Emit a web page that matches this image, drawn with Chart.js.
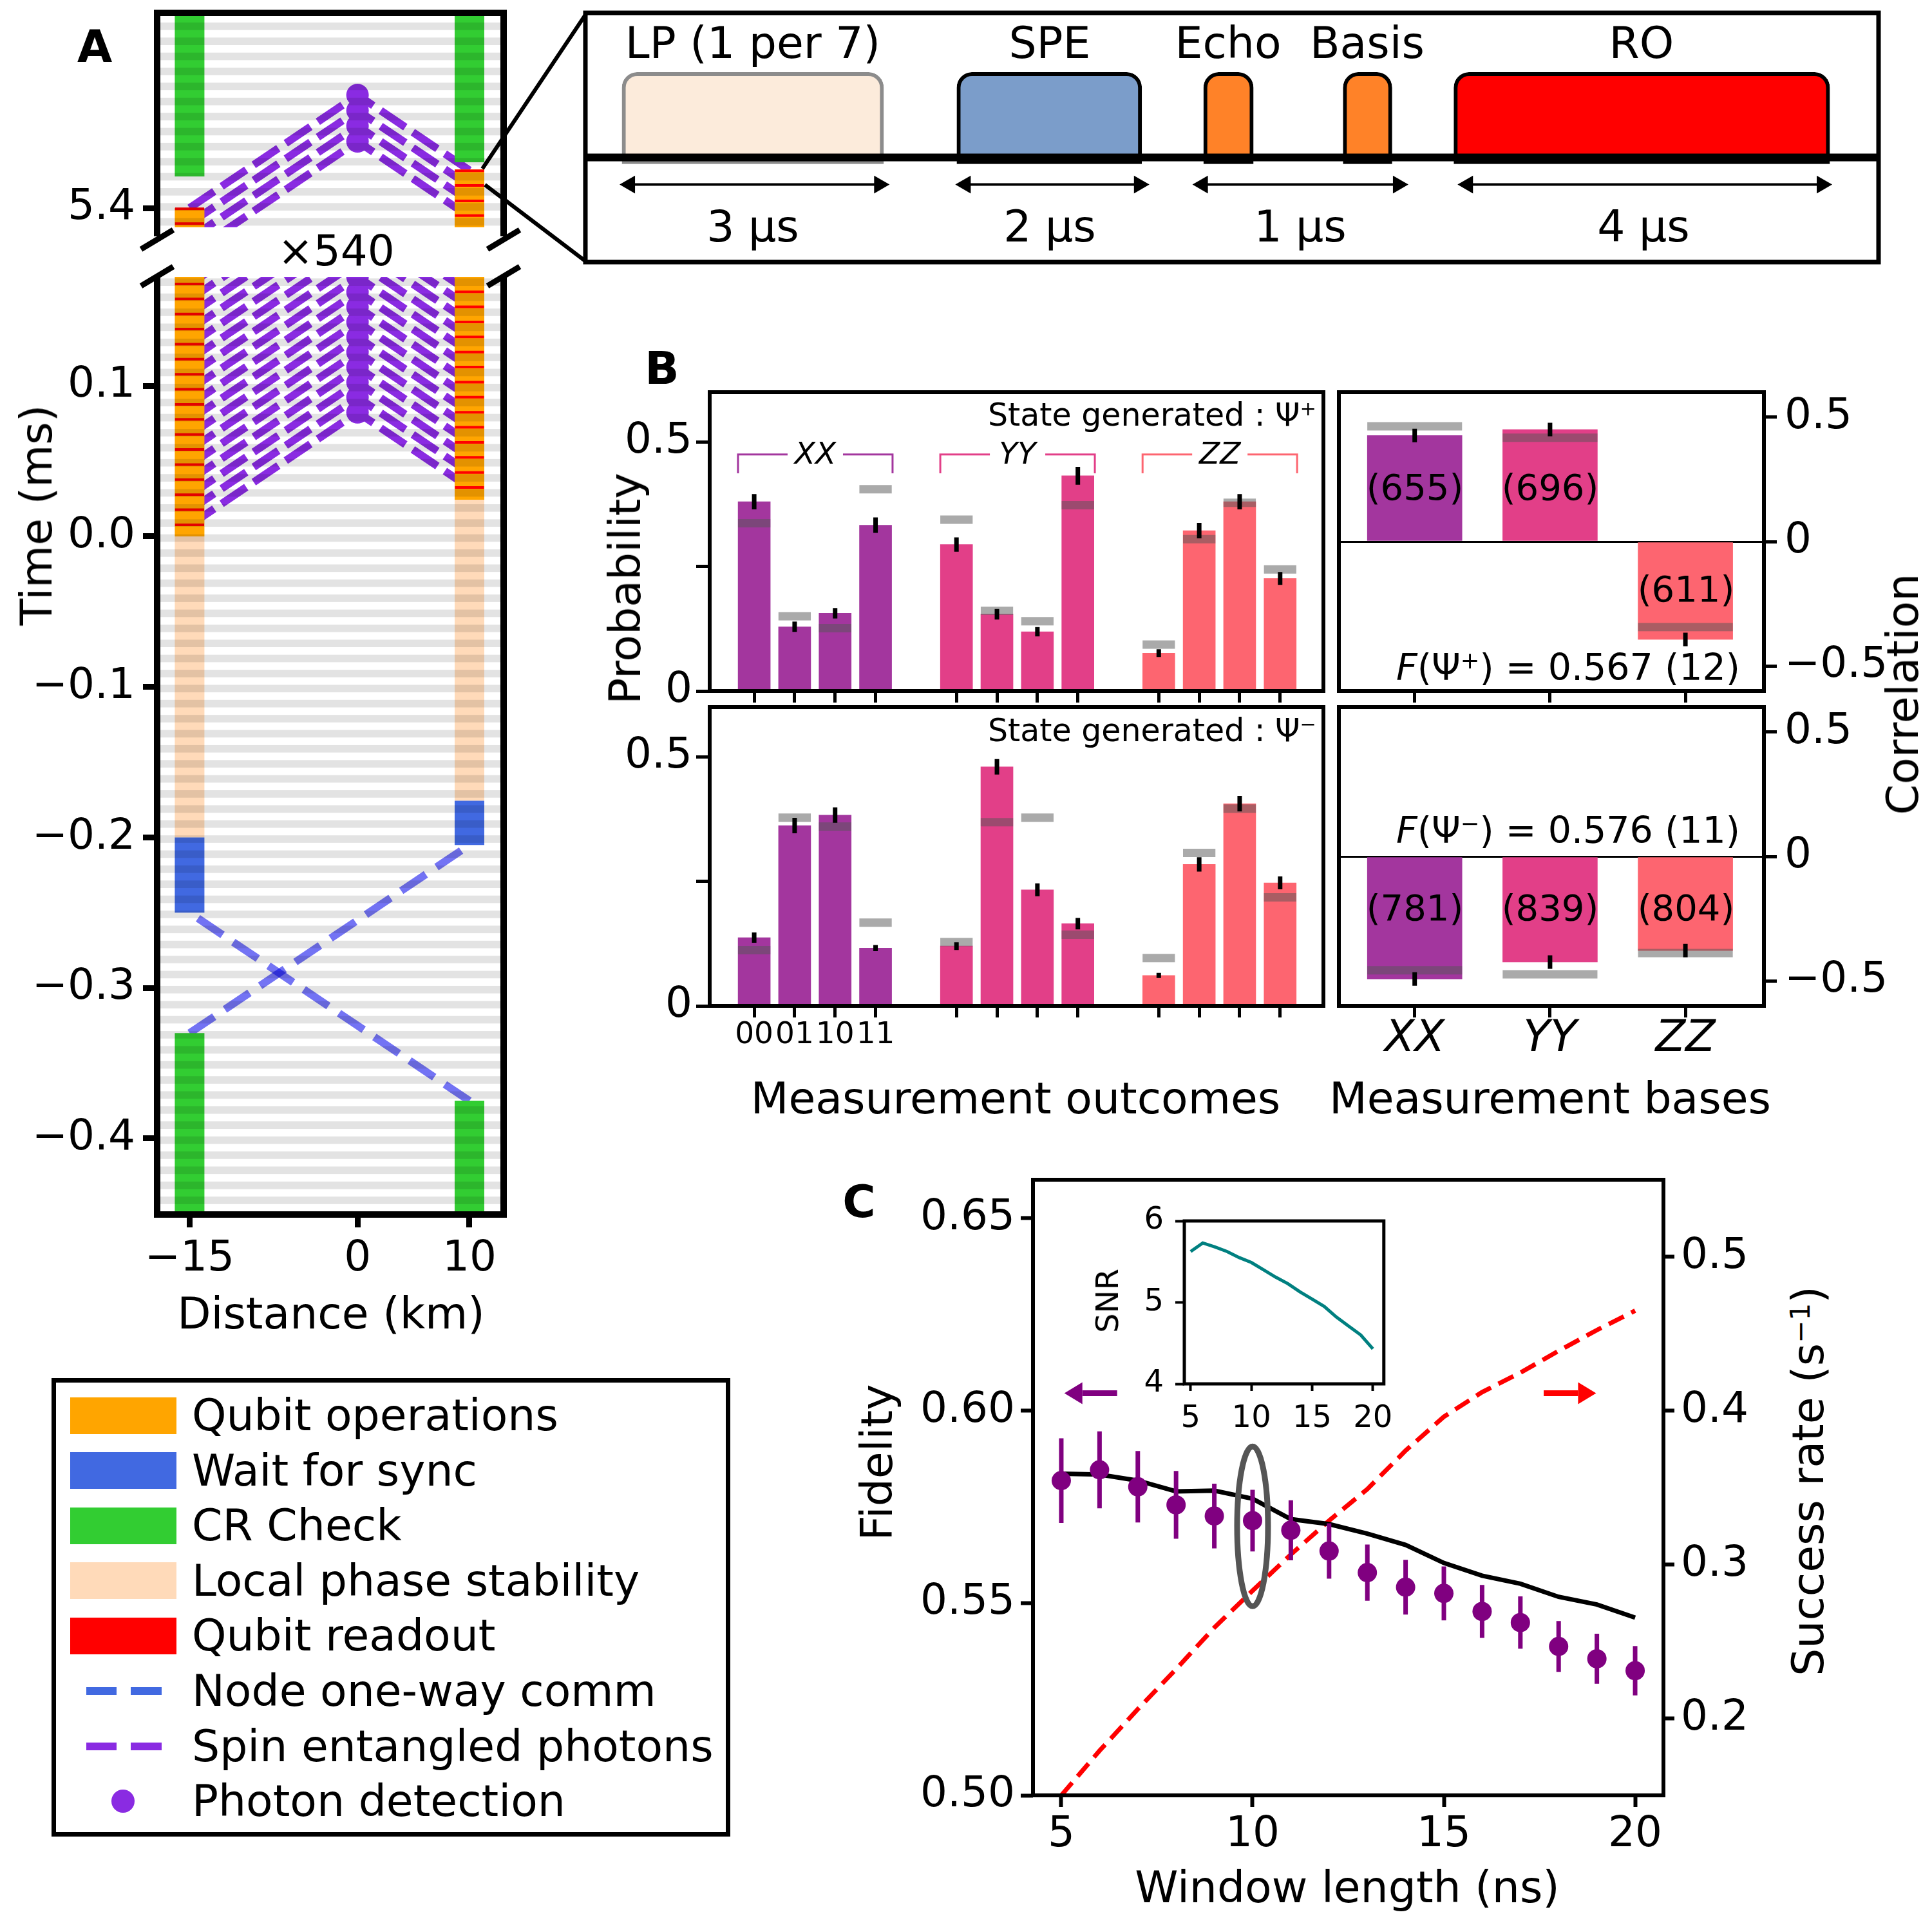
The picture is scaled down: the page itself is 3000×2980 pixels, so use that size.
<!DOCTYPE html>
<html lang="en">
<head>
<meta charset="UTF-8">
<meta name="viewport" content="width=device-width, initial-scale=1.0">
<title>Entanglement between two nodes</title>
<script src="https://cdn.jsdelivr.net/npm/chart.js"></script>
<style>
  html, body { margin: 0; padding: 0; background: #fff; }
  body { position: relative; width: 3000px; height: 2980px; overflow: hidden; font-family: 'DejaVu Sans', sans-serif; }
  canvas { position: absolute; }
  .t { position: absolute; white-space: nowrap; line-height: 1; font-size: 68px; color: #000; transform: translate(-50%, -50%); }
  .t.rot { transform: translate(-50%, -50%) rotate(-90deg); }
  .t.end { transform: translate(-100%, -50%); }
  .t.start { transform: translate(0, -50%); }
  .t.bold { font-weight: bold; font-size: 70px; }
  sup { font-size: 0.62em; line-height: 0; vertical-align: 0.5em; }
  #legend { position: absolute; left: 80px; top: 2140px; width: 1054px; height: 712px; border: 7px solid #000; box-sizing: border-box; }
  .sw { position: absolute; }
</style>
</head>
<body>
<canvas id="aUp"></canvas>
<canvas id="aLow"></canvas>
<canvas id="pulse"></canvas>
<canvas id="bTL"></canvas>
<canvas id="bBL"></canvas>
<canvas id="bTR"></canvas>
<canvas id="bBR"></canvas>
<canvas id="cMain"></canvas>
<canvas id="cIns"></canvas>
<div id="legend"></div>

<!-- panel A -->
<div class="t bold" style="left:147px;top:72px">A</div>
<div class="t" style="left:522px;top:390px;font-size:66px">×540</div>
<div class="t rot" style="left:57px;top:800px">Time (ms)</div>
<div class="t" style="left:514px;top:2040px">Distance (km)</div>

<!-- pulse sequence -->
<div class="t" style="left:1169px;top:67px">LP (1 per 7)</div>
<div class="t" style="left:1630px;top:67px">SPE</div>
<div class="t" style="left:1907px;top:67px">Echo</div>
<div class="t" style="left:2123px;top:67px">Basis</div>
<div class="t" style="left:2549px;top:67px">RO</div>
<div class="t" style="left:1169px;top:352px">3 µs</div>
<div class="t" style="left:1630px;top:352px">2 µs</div>
<div class="t" style="left:2019px;top:352px">1 µs</div>
<div class="t" style="left:2552px;top:352px">4 µs</div>

<!-- panel B -->
<div class="t bold" style="left:1028px;top:572px">B</div>
<div class="t rot" style="left:971px;top:914px">Probability</div>
<div class="t end" style="left:2044px;top:644px;font-size:49px">State generated : Ψ<sup>+</sup></div>
<div class="t end" style="left:2044px;top:1134px;font-size:49px">State generated : Ψ<sup>−</sup></div>
<div class="t" style="left:2197px;top:757px;font-size:56px">(655)</div>
<div class="t" style="left:2407px;top:757px;font-size:56px">(696)</div>
<div class="t" style="left:2618px;top:915px;font-size:56px">(611)</div>
<div class="t end" style="left:2702px;top:1036px;font-size:57px"><i>F</i>(Ψ<sup>+</sup>) = 0.567 (12)</div>
<div class="t end" style="left:2702px;top:1289px;font-size:57px"><i>F</i>(Ψ<sup>−</sup>) = 0.576 (11)</div>
<div class="t" style="left:2197px;top:1410px;font-size:56px">(781)</div>
<div class="t" style="left:2407px;top:1410px;font-size:56px">(839)</div>
<div class="t" style="left:2618px;top:1410px;font-size:56px">(804)</div>
<div class="t" style="left:1577px;top:1706px">Measurement outcomes</div>
<div class="t" style="left:2407px;top:1706px">Measurement bases</div>
<div class="t rot" style="left:2955px;top:1078px">Correlation</div>

<!-- panel C -->
<div class="t bold" style="left:1334px;top:1866px">C</div>
<div class="t rot" style="left:1362px;top:2271px">Fidelity</div>
<div class="t rot" style="left:2808px;top:2300px">Success rate (s<sup>−1</sup>)</div>
<div class="t" style="left:2092px;top:2931px">Window length (ns)</div>
<div class="t rot" style="left:1719px;top:2020px;font-size:48px">SNR</div>

<script>
// ---------- Panel A: timeline of both nodes (distance in km, time in ms) ----------
const nodeX = [-15, 10];
const fiberDelay = [0.075, 0.05];          // travel time from each node to the midpoint station
// [node, phase, start, end]
const blocksLow = [
  [0, 'CR Check', -0.46, -0.33], [0, 'Wait for sync', -0.25, -0.2],
  [0, 'Local phase stability', -0.2, 0.0], [0, 'Qubit operations', 0.0, 0.18],
  [1, 'CR Check', -0.46, -0.375], [1, 'Wait for sync', -0.205, -0.1756],
  [1, 'Local phase stability', -0.1756, 0.0244], [1, 'Qubit operations', 0.0244, 0.18]
];
const blocksUp = [
  [0, 'Qubit operations', 5.37, 5.4], [0, 'CR Check', 5.421, 5.54],
  [1, 'Qubit operations', 5.37, 5.4257], [1, 'CR Check', 5.4304, 5.54]
];
const readoutLow = [
  [0.0077, 0.0177, 0.0277, 0.0377, 0.0477, 0.0577, 0.0677, 0.0777, 0.0877, 0.0977, 0.1077, 0.1177, 0.1277, 0.1377, 0.1477, 0.1577, 0.1677],
  [0.0325, 0.0425, 0.0525, 0.0625, 0.0725, 0.0825, 0.0925, 0.1025, 0.1125, 0.1225, 0.1325, 0.1425, 0.1525, 0.1625]
];
const readoutUp = [[5.3897, 5.3995], [5.395, 5.4047, 5.415, 5.4248]];
const detectLow = [0.0824, 0.0924, 0.1024, 0.1124, 0.1224, 0.1324, 0.1424, 0.1524, 0.1624, 0.1724, 0.1824, 0.1924, 0.2024, 0.2124, 0.2224, 0.2324, 0.2424];
const detectUp = [5.4443, 5.4546, 5.4648, 5.4751];
const commLinks = [[0, -0.33, 1, -0.205], [1, -0.375, 0, -0.25]];   // [from node, t send, to node, t arrive]

// ---------- pulse sequence (µs, schematic) ----------
const pulseNames = ['LP (1 per 7)', 'SPE', 'Echo', 'Basis', 'RO'];
const pulseStart = [0.42, 4.26, 7.09, 8.69, 9.96];
const pulseEnd = [3.42, 6.38, 7.66, 9.25, 14.27];
const spanStart = [0.39, 4.24, 6.96, 10.0];
const spanEnd = [3.49, 6.47, 9.44, 14.3];

// ---------- Panel B ----------
const outcomes = ['00', '01', '10', '11'];
const bases = ['XX', 'YY', 'ZZ'];
const probPlus = [0.380, 0.129, 0.156, 0.333, 0.294, 0.154, 0.119, 0.432, 0.076, 0.322, 0.380, 0.226];
const probPlusModel = [0.337, 0.150, 0.126, 0.405, 0.344, 0.161, 0.140, 0.373, 0.093, 0.305, 0.378, 0.244];
const probPlusErr = [0.0155, 0.0104, 0.0104, 0.0155, 0.0145, 0.0104, 0.0093, 0.018, 0.0078, 0.0155, 0.0155, 0.013];
const probMinus = [0.137, 0.362, 0.383, 0.116, 0.120, 0.480, 0.233, 0.165, 0.061, 0.284, 0.406, 0.247];
const probMinusModel = [0.112, 0.378, 0.360, 0.167, 0.128, 0.369, 0.378, 0.143, 0.096, 0.307, 0.396, 0.218];
const probMinusErr = [0.0104, 0.0155, 0.0155, 0.0062, 0.0078, 0.0155, 0.013, 0.0114, 0.0052, 0.0145, 0.0155, 0.013];
const corrPlus = [0.426, 0.450, -0.393];
const corrPlusModel = [0.463, 0.417, -0.343];
const corrMinus = [-0.492, -0.424, -0.378];
const corrMinusModel = [-0.457, -0.473, -0.388];
const corrErr = [0.027, 0.027, 0.027];

// ---------- Panel C ----------
const windowNs = [5, 6, 7, 8, 9, 10, 11, 12, 13, 14, 15, 16, 17, 18, 19, 20];
const fidelity = [0.5818, 0.5846, 0.5802, 0.5755, 0.5726, 0.5714, 0.5689, 0.5635, 0.5579, 0.5541, 0.5525, 0.5478, 0.5449, 0.5387, 0.5355, 0.5324];
const fidelityErr = [0.011, 0.010, 0.0093, 0.0088, 0.0084, 0.008, 0.0078, 0.0072, 0.0073, 0.0071, 0.007, 0.0069, 0.0068, 0.0066, 0.0065, 0.0064];
const fidelityModel = [0.5836, 0.5834, 0.5818, 0.579, 0.5792, 0.5771, 0.5718, 0.5705, 0.568, 0.5651, 0.5604, 0.5571, 0.555, 0.5516, 0.5496, 0.5462];
const successRate = [0.150, 0.179, 0.206, 0.232, 0.259, 0.283, 0.3065, 0.3285, 0.349, 0.374, 0.396, 0.412, 0.4246, 0.4388, 0.4523, 0.4649];
const snr = [5.625, 5.73, 5.68, 5.625, 5.55, 5.49, 5.40, 5.31, 5.23, 5.13, 5.04, 4.95, 4.82, 4.71, 4.60, 4.43];

// ---------- styles ----------
const phaseColour = {
  'Qubit operations': '#ffa500', 'Wait for sync': '#4169e1', 'CR Check': '#32cd32',
  'Local phase stability': '#ffdab9', 'Qubit readout': '#ff0000'
};
const groupColour = ['#a3369e', '#e23f88', '#fd6570'];
const pulseFill = ['#fcebdb', '#7b9dca', '#ff8228', '#ff8228', '#ff0000'];
const pulseEdge = ['#8c8c8c', '#000', '#000', '#000', '#000'];

Chart.defaults.font.family = "'DejaVu Sans', sans-serif";
Chart.defaults.color = '#000';

const el = id => document.getElementById(id);
const minus = s => String(s).replace('-', '\u2212');

// put a canvas so that its chart area lands on area = [left, top, right, bottom]
function place(id, area, m) {
  const c = el(id);
  c.width = area[2] - area[0] + m[0] + m[2];
  c.height = area[3] - area[1] + m[1] + m[3];
  c.style.left = (area[0] - m[0]) + 'px';
  c.style.top = (area[1] - m[1]) + 'px';
  c.style.width = c.width + 'px';
  c.style.height = c.height + 'px';
  return c;
}

function opts(pad, scales, plugins) {
  return {
    responsive: false, animation: false, devicePixelRatio: 1, events: [],
    layout: { padding: pad },
    scales,
    plugins: Object.assign({ legend: { display: false }, tooltip: { enabled: false } }, plugins || {}),
    elements: { point: { radius: 0, hoverRadius: 0 }, line: { tension: 0 } }
  };
}

function linAxis(pos, min, max, vals, fmt, o) {
  const horiz = pos === 'bottom' || pos === 'top';
  return {
    type: 'linear', position: pos, min, max, offset: false,
    afterBuildTicks: s => { s.ticks = vals.map(v => ({ value: v })); },
    afterFit: s => { if (horiz) s.height = o.size; else s.width = o.size; },
    grid: {
      offset: false,
      drawOnChartArea: !!o.zero,
      color: c => (o.zero && c.tick && c.tick.value === 0) ? '#000' : 'rgba(0,0,0,0)',
      lineWidth: 3,
      tickLength: o.len, tickWidth: o.w, tickColor: '#000'
    },
    border: { display: false },
    ticks: {
      callback: fmt, padding: o.pad, autoSkip: false, maxRotation: 0, minRotation: 0, color: '#000',
      font: { size: o.font, style: o.italic ? 'italic' : 'normal', lineHeight: 1 }
    }
  };
}

function hSegs(xs, ys, half) {
  const d = [];
  xs.forEach((x, i) => d.push({ x: x - half, y: ys[i] }, { x: x + half, y: ys[i] }, { x: x, y: null }));
  return d;
}
function vSegs(xs, ys, errs) {
  const d = [];
  xs.forEach((x, i) => d.push({ x, y: ys[i] - errs[i] }, { x, y: ys[i] + errs[i] }, { x, y: null }));
  return d;
}

// ---------- plugins ----------
const framePlugin = {
  id: 'frame',
  afterDraw(chart, args, o) {
    if (!o.width) return;
    const { ctx, chartArea: a } = chart;
    const sides = o.sides || 'lrtb';
    const h = o.width / 2, ext = o.ext || 0;
    ctx.save();
    ctx.strokeStyle = '#000';
    ctx.lineWidth = o.width;
    ctx.beginPath();
    if (sides.includes('t')) { ctx.moveTo(a.left - h, a.top); ctx.lineTo(a.right + h, a.top); }
    if (sides.includes('b')) { ctx.moveTo(a.left - h, a.bottom); ctx.lineTo(a.right + h, a.bottom); }
    const y0 = sides.includes('t') ? a.top : a.top - ext;
    const y1 = sides.includes('b') ? a.bottom : a.bottom + ext;
    if (sides.includes('l')) { ctx.moveTo(a.left, y0); ctx.lineTo(a.left, y1); }
    if (sides.includes('r')) { ctx.moveTo(a.right, y0); ctx.lineTo(a.right, y1); }
    ctx.stroke();
    // broken-axis marks
    if (o.breakAt !== undefined) {
      const yb = o.breakAt === 'top' ? a.top - 1 : a.bottom + 19;
      ctx.lineWidth = 9;
      ctx.beginPath();
      [a.left, a.right].forEach(x => { ctx.moveTo(x - 25, yb + 15); ctx.lineTo(x + 25, yb - 15); });
      ctx.stroke();
    }
    ctx.restore();
  }
};

const stripesPlugin = {
  id: 'stripes',
  afterDatasetsDraw(chart, args, o) {
    if (!o.period) return;
    const { ctx, chartArea: a, scales: { y } } = chart;
    ctx.save();
    ctx.beginPath();
    ctx.rect(a.left, a.top, a.width, a.height);
    ctx.clip();
    ctx.fillStyle = 'rgba(0,0,0,0.11)';
    let t = o.start - Math.ceil((o.start - y.min) / o.period) * o.period;
    for (; t < y.max; t += o.period) {
      const p0 = y.getPixelForValue(t + o.width), p1 = y.getPixelForValue(t);
      ctx.fillRect(a.left, p0, a.width, p1 - p0);
    }
    ctx.restore();
  }
};
Chart.register(framePlugin, stripesPlugin);

// ---------- Panel A ----------
function timeline(id, area, margin, yMin, yMax, yTicks, blocks, readout, detect, comm, withX, stripeStart, frame) {
  place(id, area, margin);
  const sets = [];
  sets.push({ data: detect.map(d => ({ x: 0, y: d })), showLine: false, pointRadius: 17.5,
    pointBackgroundColor: '#8a2be2', pointBorderWidth: 0, order: 1, clip: 0 });
  const ro = [];
  readout.forEach((ts, n) => ts.forEach(t => ro.push({ x: nodeX[n] - 1.3, y: t }, { x: nodeX[n] + 1.3, y: t }, { x: nodeX[n], y: null })));
  sets.push({ data: ro, borderColor: phaseColour['Qubit readout'], borderWidth: 4, order: 2, clip: 0 });
  blocks.forEach(b => sets.push({
    data: [{ x: nodeX[b[0]], y: b[2] }, { x: nodeX[b[0]], y: b[3] }],
    borderColor: phaseColour[b[1]], borderWidth: 46, borderCapStyle: 'butt', order: 3, clip: 0
  }));
  const ph = [];
  detect.forEach(d => nodeX.forEach((nx, n) => ph.push({ x: nx, y: d - fiberDelay[n] }, { x: 0, y: d }, { x: 0, y: null })));
  sets.push({ data: ph, borderColor: '#8a2be2', borderWidth: 12, borderDash: [46, 14], order: 4, clip: 0 });
  // each message is its own dataset so overlapping dashes darken like the reference
  comm.forEach(c => sets.push({
    data: [{ x: nodeX[c[0]], y: c[1] }, { x: nodeX[c[2]], y: c[3] }],
    borderColor: 'rgba(0,0,235,0.55)', borderWidth: 12, borderDash: [46, 20], order: 5, clip: 0
  }));

  return new Chart(el(id), {
    type: 'line',
    data: { datasets: sets },
    options: opts(
      { left: 0, top: margin[1], right: margin[2], bottom: withX ? 0 : margin[3] },
      {
        x: withX
          ? linAxis('bottom', -17.9, 13.05, [-15, 0, 10], v => minus(v), { size: margin[3], len: 20, w: 9, pad: 17, font: 66 })
          : { type: 'linear', display: false, min: -17.9, max: 13.05 },
        y: linAxis('left', yMin, yMax, yTicks, v => minus(v.toFixed(1)), { size: margin[0], len: 22, w: 9, pad: 12, font: 66 })
      },
      { frame, stripes: { start: stripeStart, period: 0.01, width: 0.005 } }
    )
  });
}

timeline('aUp', [244, 20, 782, 353], [244, 60, 40, 80], 5.3872, 5.5297, [5.4],
  blocksUp, readoutUp, detectUp, [], false, 5.3983, { width: 10, sides: 'lrt', ext: 14, breakAt: 'bottom' });
timeline('aLow', [244, 430, 782, 1886], [244, 80, 40, 160], -0.4505, 0.1724, [-0.4, -0.3, -0.2, -0.1, 0, 0.1],
  blocksLow, readoutLow, detectLow, commLinks, true, 0.0064, { width: 10, sides: 'lrb', breakAt: 'top' });

// ---------- pulse sequence ----------
const connectors = {
  id: 'connectors',
  afterDraw(chart, args, o) {
    const { ctx } = chart;
    const ox = parseFloat(chart.canvas.style.left), oy = parseFloat(chart.canvas.style.top);
    ctx.save();
    ctx.strokeStyle = '#000';
    ctx.lineWidth = 6;
    ctx.beginPath();
    o.lines.forEach(l => { ctx.moveTo(l[0] - ox, l[1] - oy); ctx.lineTo(l[2] - ox, l[3] - oy); });
    ctx.stroke();
    ctx.restore();
  }
};

place('pulse', [909, 20, 2917, 407], [200, 20, 40, 20]);
const pulseSets = [
  { type: 'line', data: [{ x: 0, y: 0 }, { x: 14.83, y: 0 }], borderColor: '#000', borderWidth: 12, order: 1 },
  {
    type: 'bar', indexAxis: 'y', label: 'pulses',
    data: pulseStart.map((s, i) => ({ x: [s, pulseEnd[i]], y: 0.5 })),
    backgroundColor: pulseFill, borderColor: pulseEdge, borderWidth: 6, borderSkipped: false,
    borderRadius: { topLeft: 24, topRight: 24, bottomLeft: 0, bottomRight: 0 },
    barThickness: 142, order: 2
  }
];
spanStart.forEach((s, i) => pulseSets.push({
  type: 'line', data: [{ x: s + 0.12, y: -0.343 }, { x: spanEnd[i] - 0.12, y: -0.343 }],
  borderColor: '#000', borderWidth: 4, pointRadius: 16, pointStyle: 'triangle', pointRotation: [270, 90],
  pointBackgroundColor: '#000', pointBorderWidth: 0, order: 0
}));
new Chart(el('pulse'), {
  type: 'line',
  data: { datasets: pulseSets },
  options: opts({ left: 200, top: 20, right: 40, bottom: 20 }, {
    x: { type: 'linear', display: false, min: 0, max: 14.83 },
    y: { type: 'linear', display: false, min: -1.1286, max: 1.6357 }
  }, { frame: { width: 7 }, connectors: { lines: [[749, 262, 911, 20], [753, 287, 911, 407]] } }),
  plugins: [connectors]
});

// ---------- Panel B ----------
const brackets = {
  id: 'brackets',
  afterDatasetsDraw(chart) {
    const { ctx, scales: { x, y } } = chart;
    ctx.save();
    bases.forEach((b, g) => {
      const x0 = x.getPixelForValue(g * 5 - 0.4), x1 = x.getPixelForValue(g * 5 + 3.42), xc = (x0 + x1) / 2;
      const yl = y.getPixelForValue(0.475), yt = y.getPixelForValue(0.437);
      ctx.strokeStyle = groupColour[g];
      ctx.lineWidth = 3;
      ctx.beginPath();
      ctx.moveTo(x0, yt); ctx.lineTo(x0, yl); ctx.lineTo(xc - 43, yl);
      ctx.moveTo(xc + 43, yl); ctx.lineTo(x1, yl); ctx.lineTo(x1, yt);
      ctx.stroke();
      ctx.fillStyle = '#000';
      ctx.font = "italic 47px 'DejaVu Sans'";
      ctx.textAlign = 'center';
      ctx.textBaseline = 'middle';
      ctx.fillText(b, xc, yl + 2);
    });
    ctx.restore();
  }
};

function probChart(id, area, margin, vals, model, errs, xLabels, extra) {
  place(id, area, margin);
  const pos = vals.map((v, i) => Math.floor(i / 4) * 5 + i % 4);
  const cols = vals.map((v, i) => groupColour[Math.floor(i / 4)]);
  return new Chart(el(id), {
    type: 'bar',
    data: { datasets: [
      { type: 'line', data: vSegs(pos, vals, errs), borderColor: '#000', borderWidth: 7, order: 1 },
      { type: 'line', data: hSegs(pos, model, 0.4), borderColor: 'rgba(85,85,85,0.5)', borderWidth: 13, order: 2 },
      { data: pos.map((p, i) => ({ x: p, y: vals[i] })), backgroundColor: cols, barThickness: 50, order: 3 }
    ] },
    options: opts({ left: 0, top: margin[1], right: margin[2], bottom: 0 }, {
      x: linAxis('bottom', -1.1, 14.07, pos, (v, i) => xLabels ? (xLabels[i] || '') : '', { size: margin[3], len: 18, w: 5, pad: 4, font: 47 }),
      y: linAxis('left', 0, 0.6, [0, 0.25, 0.5], v => v === 0 ? '0' : (v === 0.5 ? '0.5' : ''), { size: margin[0], len: 21, w: 5, pad: 6, font: 66 })
    }, { frame: { width: 6 } }),
    plugins: extra ? [extra] : []
  });
}

function corrChart(id, area, margin, vals, model, errs, showLabels) {
  place(id, area, margin);
  const pos = [0, 1, 2];
  return new Chart(el(id), {
    type: 'bar',
    data: { datasets: [
      { type: 'line', data: vSegs(pos, vals, errs), borderColor: '#000', borderWidth: 7, order: 1 },
      { type: 'line', data: hSegs(pos, model, 0.35), borderColor: 'rgba(85,85,85,0.5)', borderWidth: 13, order: 2 },
      { data: pos.map(p => ({ x: p, y: vals[p] })), backgroundColor: groupColour, barThickness: 147, order: 3 }
    ] },
    options: opts({ left: margin[0], top: margin[1], right: 0, bottom: 0 }, {
      x: linAxis('bottom', -0.56, 2.58, pos, (v, i) => showLabels ? bases[i] : '', { size: margin[3], len: 18, w: 5, pad: 0, font: 68, italic: true }),
      y: linAxis('right', -0.6, 0.6, [-0.5, 0, 0.5], v => v === 0 ? '0' : minus(v), { size: margin[2], len: 20, w: 5, pad: 12, font: 66, zero: true })
    }, { frame: { width: 6 } })
  });
}

probChart('bTL', [1102, 609, 2055, 1073], [150, 60, 20, 60], probPlus, probPlusModel, probPlusErr, null, brackets);
probChart('bBL', [1102, 1098, 2055, 1562], [150, 60, 20, 100], probMinus, probMinusModel, probMinusErr, outcomes, null);
corrChart('bTR', [2079, 609, 2739, 1073], [20, 60, 230, 60], corrPlus, corrPlusModel, corrErr, false);
corrChart('bBR', [2079, 1098, 2739, 1562], [20, 60, 230, 110], corrMinus, corrMinusModel, corrErr, true);

// ---------- Panel C ----------
const cMarks = {
  id: 'cMarks',
  afterDatasetsDraw(chart, args, o) {
    const { ctx, scales: { x, y } } = chart;
    ctx.save();
    ctx.strokeStyle = '#555';
    ctx.lineWidth = 9;
    ctx.beginPath();
    ctx.ellipse(x.getPixelForValue(o.ring[0]), y.getPixelForValue(o.ring[1]), o.ring[2], o.ring[3], 0, 0, Math.PI * 2);
    ctx.stroke();
    o.arrows.forEach(([xTail, xTip, yv, col]) => {
      const xa = x.getPixelForValue(xTail), xb = x.getPixelForValue(xTip), yy = y.getPixelForValue(yv);
      const dir = Math.sign(xb - xa), head = 28;
      ctx.strokeStyle = col;
      ctx.fillStyle = col;
      ctx.lineWidth = 9;
      ctx.beginPath(); ctx.moveTo(xa, yy); ctx.lineTo(xb - dir * head, yy); ctx.stroke();
      ctx.beginPath(); ctx.moveTo(xb, yy); ctx.lineTo(xb - dir * head, yy - 17); ctx.lineTo(xb - dir * head, yy + 17); ctx.closePath(); ctx.fill();
    });
    ctx.restore();
  }
};

place('cMain', [1604, 1832, 2583, 2788], [200, 60, 180, 120]);
new Chart(el('cMain'), {
  type: 'line',
  data: { datasets: [
    { data: windowNs.map((w, i) => ({ x: w, y: fidelity[i] })), showLine: false, pointRadius: 15,
      pointBackgroundColor: '#800080', pointBorderWidth: 0, order: 1, yAxisID: 'y' },
    { data: vSegs(windowNs, fidelity, fidelityErr), borderColor: '#800080', borderWidth: 7, order: 2, yAxisID: 'y' },
    { data: windowNs.map((w, i) => ({ x: w, y: fidelityModel[i] })), borderColor: '#000', borderWidth: 7, order: 3, yAxisID: 'y' },
    { data: windowNs.map((w, i) => ({ x: w, y: successRate[i] })), borderColor: '#ff0000', borderWidth: 7, borderDash: [26, 13], order: 4, yAxisID: 'y1' }
  ] },
  options: opts({ left: 0, top: 60, right: 0, bottom: 0 }, {
    x: linAxis('bottom', 4.26, 20.74, [5, 10, 15, 20], v => String(v), { size: 120, len: 18, w: 6, pad: 11, font: 66 }),
    y: linAxis('left', 0.5, 0.66, [0.5, 0.55, 0.6, 0.65], v => v.toFixed(2), { size: 200, len: 19, w: 6, pad: 9, font: 66 }),
    y1: linAxis('right', 0.15, 0.55, [0.2, 0.3, 0.4, 0.5], v => v.toFixed(1), { size: 180, len: 17, w: 6, pad: 10, font: 66 })
  }, {
    frame: { width: 6 },
    cMarks: { ring: [10, 0.5699, 24, 124], arrows: [[6.46, 5.08, 0.6045, '#800080'], [17.61, 18.98, 0.6045, '#ff0000']] }
  }),
  plugins: [cMarks]
});

const whiteBg = {
  id: 'whiteBg',
  beforeDraw(chart) {
    const { ctx, chartArea: a } = chart;
    ctx.save();
    ctx.fillStyle = '#fff';
    ctx.fillRect(a.left, a.top, a.width, a.height);
    ctx.restore();
  }
};
place('cIns', [1839, 1896, 2154, 2149], [90, 50, 30, 80]);
new Chart(el('cIns'), {
  type: 'line',
  data: { datasets: [{ data: windowNs.map((w, i) => ({ x: w, y: snr[i] })), borderColor: '#008080', borderWidth: 5 }] },
  options: opts({ left: 0, top: 50, right: 30, bottom: 0 }, {
    x: linAxis('bottom', 4.48, 20.9, [5, 10, 15, 20], v => String(v), { size: 80, len: 11, w: 4, pad: 20, font: 48 }),
    y: linAxis('left', 4, 6, [4, 5, 6], v => String(v), { size: 90, len: 14, w: 4, pad: 18, font: 48 })
  }, { frame: { width: 5 } }),
  plugins: [whiteBg]
});

// ---------- legend for panel A ----------
const legendItems = [
  ['patch', 'Qubit operations'], ['patch', 'Wait for sync'], ['patch', 'CR Check'],
  ['patch', 'Local phase stability'], ['patch', 'Qubit readout'],
  ['dash', 'Node one-way comm'], ['dash', 'Spin entangled photons'], ['dot', 'Photon detection']
];
const legendColour = Object.assign({}, phaseColour, {
  'Node one-way comm': '#4169e1', 'Spin entangled photons': '#8a2be2', 'Photon detection': '#8a2be2'
});
function box(x, y, w, h, colour, round) {
  const d = document.createElement('div');
  d.className = 'sw';
  Object.assign(d.style, { left: x + 'px', top: y + 'px', width: w + 'px', height: h + 'px', background: colour, borderRadius: round ? '50%' : '0' });
  document.body.appendChild(d);
}
legendItems.forEach(([kind, name], i) => {
  const cy = 2198 + i * 85.6;
  const col = legendColour[name];
  if (kind === 'patch') box(109, cy - 28.5, 165, 57, col);
  if (kind === 'dash') { box(134, cy - 6, 47, 12, col); box(203, cy - 6, 48, 12, col); }
  if (kind === 'dot') box(173, cy - 18, 36, 36, col, true);
  const t = document.createElement('div');
  t.className = 't start';
  t.style.left = '298px';
  t.style.top = cy + 'px';
  t.textContent = name;
  document.body.appendChild(t);
});
</script>
</body>
</html>
